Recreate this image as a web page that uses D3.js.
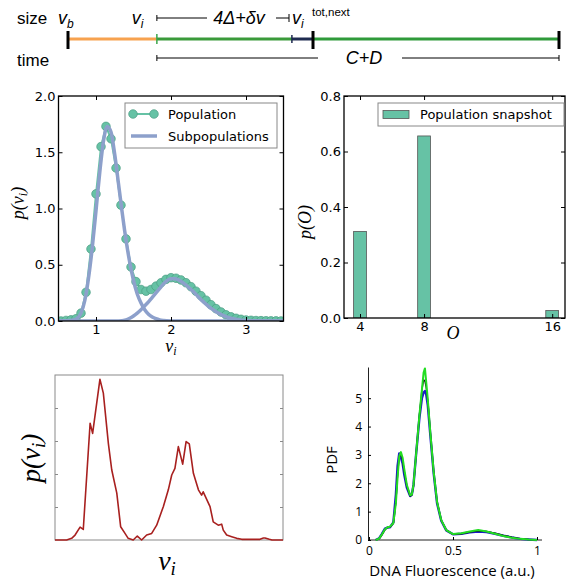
<!DOCTYPE html>
<html>
<head>
<meta charset="utf-8">
<script src="https://cdn.jsdelivr.net/npm/d3@7"></script>
<style>
  body { margin: 0; background: #fff; }
  svg text { fill: #000; }
</style>
</head>
<body>
<svg id="fig" width="566" height="580"></svg>
<script>
// ---- data ----
// timeline (fraction of cycle): v_b, v_i, start of δv, v_i^tot,next, end
const timelineMarks = [0, 0.181, 0.456, 0.499, 1.0];

// panel A: population histogram (bin centres) and two fitted subpopulations
const popX = [0.533,0.6,0.667,0.733,0.8,0.867,0.933,1.0,1.067,1.133,1.2,1.267,1.333,1.4,1.467,1.533,1.6,1.667,1.733,1.8,1.867,1.933,2.0,2.067,2.133,2.2,2.267,2.333,2.4,2.467,2.533,2.6,2.667,2.733,2.8,2.867,2.933,3.0,3.067,3.133,3.2,3.267,3.333,3.4,3.467];
const popY = [0.0,0.005,0.01,0.02,0.07,0.255,0.64,1.13,1.55,1.73,1.62,1.36,1.03,0.73,0.48,0.35,0.28,0.265,0.28,0.31,0.34,0.37,0.385,0.38,0.365,0.34,0.305,0.265,0.225,0.185,0.145,0.11,0.08,0.055,0.037,0.024,0.015,0.009,0.006,0.004,0.003,0.002,0.001,0.001,0.0];
const sub1X = [0.5,0.6,0.7,0.75,0.8,0.85,0.9,0.95,1.0,1.05,1.1,1.15,1.2,1.25,1.3,1.35,1.4,1.45,1.5,1.55,1.6,1.65,1.7,1.75,1.8,1.85,1.9,2.0,2.1,3.5];
const sub1Y = [0,0.002,0.01,0.025,0.07,0.18,0.38,0.65,0.98,1.32,1.6,1.73,1.68,1.48,1.22,0.96,0.72,0.52,0.36,0.24,0.16,0.1,0.06,0.035,0.02,0.01,0.005,0.001,0,0];
const sub2X = [0.5,1.3,1.4,1.45,1.5,1.55,1.6,1.65,1.7,1.75,1.8,1.85,1.9,1.95,2.0,2.05,2.1,2.15,2.2,2.25,2.3,2.35,2.4,2.45,2.5,2.55,2.6,2.65,2.7,2.75,2.8,2.9,3.0,3.1,3.2,3.5];
const sub2Y = [0,0,0.01,0.025,0.045,0.07,0.1,0.135,0.17,0.21,0.25,0.29,0.33,0.36,0.375,0.375,0.365,0.345,0.32,0.29,0.26,0.225,0.19,0.16,0.13,0.105,0.082,0.063,0.047,0.035,0.025,0.012,0.005,0.002,0.001,0];
const aXTicks = [1, 2, 3];
const aYTicks = [0, 0.5, 1.0, 1.5, 2.0];

// panel B: origins per cell
const originCats = [4, 8, 16];
const originP = [0.312, 0.656, 0.027];
const bYTicks = [0, 0.2, 0.4, 0.6, 0.8];

// panel C: measured volume distribution (arbitrary units)
const measX = [0,0.51,0.73,0.88,1.10,1.24,1.54,1.65,1.97,2.12,2.34,2.49,2.71,2.88,3.07,3.21,3.43,3.61,3.80,4.02,4.24,4.46,4.75,4.97,5.12,5.26,5.41,5.60,5.75,5.89,6.07,6.29,6.43,6.50,6.80,6.94,7.16,7.31,7.38,7.53,7.75,7.97,8.19,8.99,9.14,9.21,9.40,9.52,10];
const measY = [0,0,0.05,0.15,0.39,0.32,3.54,3.23,4.87,4.45,2.93,2.12,1.42,0.40,0.20,0.05,0,0.12,0,0.15,0.20,0.45,1.01,1.52,1.97,2.17,2.83,2.30,2.98,2.91,2.02,1.52,1.36,1.46,1.01,0.55,0.45,0.48,0.30,0.15,0.10,0.05,0.02,0.02,0.06,0.06,0.02,0,0];
const cYTicks = [1, 2, 3, 4];

// panel D: DNA fluorescence PDFs (three replicates)
const dnaX = [0.04,0.06,0.075,0.095,0.11,0.125,0.145,0.16,0.17,0.18,0.19,0.2,0.21,0.225,0.245,0.255,0.265,0.28,0.3,0.315,0.325,0.333,0.34,0.35,0.365,0.385,0.405,0.43,0.46,0.5,0.55,0.6,0.65,0.7,0.75,0.8,0.85,0.9,0.95,1.0];
const dnaBlue = [0,0.06,0.2,0.4,0.44,0.45,0.62,1.6,2.6,3.05,2.9,2.7,2.3,1.85,1.55,1.6,1.95,3.0,4.3,5.0,5.2,5.25,5.15,4.75,3.7,2.35,1.3,0.68,0.34,0.2,0.22,0.27,0.3,0.28,0.22,0.15,0.09,0.04,0.02,0];
const dnaBlack = [0,0.04,0.16,0.36,0.44,0.46,0.58,1.35,2.3,2.95,3.0,2.8,2.4,1.9,1.55,1.58,1.9,3.0,4.4,5.3,5.65,5.6,5.4,4.9,3.8,2.4,1.35,0.7,0.35,0.2,0.22,0.28,0.32,0.3,0.24,0.16,0.1,0.05,0.02,0];
const dnaGreen = [0,0.05,0.18,0.38,0.45,0.47,0.6,1.3,2.2,2.95,3.1,2.9,2.5,1.95,1.58,1.6,1.95,3.0,4.4,5.3,5.9,6.05,5.6,4.95,3.8,2.4,1.35,0.7,0.35,0.21,0.24,0.3,0.35,0.3,0.22,0.14,0.08,0.04,0.015,0];
const dXTicks = [0, 0.5, 1];
const dYTicks = [0, 1, 2, 3, 4, 5];

const svg = d3.select("#fig");
const mplFont = "'DejaVu Sans', sans-serif";
const mathFont = "'Liberation Serif', 'DejaVu Serif', serif";
const teal = "#66c2a5";
const lav = "#8da0cb";

// ---------- timeline ----------
function drawTimeline() {
    const tx = d3.scaleLinear().domain([0, 1]).range([68, 559]);
    const g = svg.append("g").attr("font-family", "'Liberation Sans', Arial, sans-serif");
    const m = timelineMarks;
    const yLine = 39;
    const segs = [[m[0], m[1], "#f7a24f"], [m[1], m[2], "#3a9a3a"], [m[2], m[3], "#1e2b50"], [m[3], m[4], "#2f9a3a"]];
    g.selectAll("line.seg").data(segs).join("line")
        .attr("x1", d => tx(d[0])).attr("x2", d => tx(d[1]))
        .attr("y1", yLine).attr("y2", yLine)
        .attr("stroke", d => d[2]).attr("stroke-width", 3);
    // thin ticks
    g.append("line").attr("x1", tx(m[1])).attr("x2", tx(m[1])).attr("y1", 34).attr("y2", 44).attr("stroke", "#3aa64a").attr("stroke-width", 1.5);
    g.append("line").attr("x1", tx(m[2])).attr("x2", tx(m[2])).attr("y1", 35).attr("y2", 43).attr("stroke", "#1e2b50").attr("stroke-width", 1.5);
    // thick black ticks
    g.selectAll("line.big").data([m[0], m[3], m[4]]).join("line")
        .attr("x1", d => tx(d)).attr("x2", d => tx(d)).attr("y1", 31).attr("y2", 49)
        .attr("stroke", "#000").attr("stroke-width", 3);

    g.append("text").attr("x", 17).attr("y", 24).attr("font-size", 17).text("size");
    g.append("text").attr("x", 17).attr("y", 66).attr("font-size", 17).text("time");

    const vb = g.append("text").attr("x", tx(m[0]) - 10).attr("y", 24).attr("font-size", 18).attr("font-style", "italic");
    vb.append("tspan").text("v");
    vb.append("tspan").attr("font-size", 12).attr("dy", 4).text("b");
    const vi = g.append("text").attr("x", tx(m[1]) - 25).attr("y", 24).attr("font-size", 18).attr("font-style", "italic");
    vi.append("tspan").text("v");
    vi.append("tspan").attr("font-size", 12).attr("dy", 4).text("i");
    const vt = g.append("text").attr("x", tx(m[3]) - 21).attr("y", 24).attr("font-size", 18).attr("font-style", "italic");
    vt.append("tspan").text("v");
    vt.append("tspan").attr("font-size", 12).attr("dy", 4).text("i");
    g.append("text").attr("x", tx(m[3]) - 1).attr("y", 16).attr("font-size", 11.5).text("tot,next");

    // upper bracket: 4Δ+δv
    const yb = 18;
    g.append("line").attr("x1", tx(m[1])).attr("x2", 207).attr("y1", yb).attr("y2", yb).attr("stroke", "#000");
    g.append("line").attr("x1", tx(m[1])).attr("x2", tx(m[1])).attr("y1", yb - 3).attr("y2", yb + 3).attr("stroke", "#000");
    g.append("text").attr("x", 239).attr("y", 24).attr("font-size", 18).attr("font-style", "italic")
        .attr("text-anchor", "middle").text("4Δ+δv");
    g.append("line").attr("x1", 276).attr("x2", 289).attr("y1", yb).attr("y2", yb).attr("stroke", "#000");
    g.append("line").attr("x1", 289).attr("x2", 289).attr("y1", yb - 4).attr("y2", yb + 4).attr("stroke", "#000");

    // lower bracket: C+D
    const yc = 58;
    g.append("line").attr("x1", tx(m[1])).attr("x2", 318).attr("y1", yc).attr("y2", yc).attr("stroke", "#000");
    g.append("line").attr("x1", tx(m[1])).attr("x2", tx(m[1])).attr("y1", yc - 3).attr("y2", yc + 3).attr("stroke", "#000");
    g.append("text").attr("x", 364).attr("y", 64).attr("font-size", 18).attr("font-style", "italic")
        .attr("text-anchor", "middle").text("C+D");
    g.append("line").attr("x1", 402).attr("x2", tx(m[4])).attr("y1", yc).attr("y2", yc).attr("stroke", "#000");
    g.append("line").attr("x1", tx(m[4])).attr("x2", tx(m[4])).attr("y1", yc - 3).attr("y2", yc + 3).attr("stroke", "#000");
}

// matplotlib-style box with inward ticks on all sides
function mplFrame(g, x, y, xt, yt, xfmt, yfmt) {
    const [x0, x1] = x.range();
    const [y0, y1] = y.range();
    const mk = (axis, tr, fmt) => {
        const a = g.append("g").attr("transform", tr)
            .call(axis.tickSizeInner(-4).tickSizeOuter(0).tickPadding(4).tickFormat(fmt));
        a.select(".domain").remove();
        a.selectAll(".tick line").attr("stroke", "#000").attr("stroke-width", 1);
        a.selectAll("text").attr("font-family", mplFont).attr("font-size", 13).attr("fill", "#000");
        return a;
    };
    mk(d3.axisBottom(x).tickValues(xt), `translate(0,${y0})`, xfmt).selectAll("text").attr("y", 4);
    mk(d3.axisTop(x).tickValues(xt), `translate(0,${y1})`, "");
    mk(d3.axisLeft(y).tickValues(yt), `translate(${x0},0)`, yfmt).selectAll("text").attr("x", -3);
    mk(d3.axisRight(y).tickValues(yt), `translate(${x1},0)`, "");
    g.append("rect").attr("x", x0).attr("y", y1).attr("width", x1 - x0).attr("height", y0 - y1)
        .attr("fill", "none").attr("stroke", "#000").attr("stroke-width", 1.3);
}

// ---------- panel A ----------
function drawPanelA() {
    const x = d3.scaleLinear().domain([0.5, 3.5]).range([58.5, 283.5]);
    const y = d3.scaleLinear().domain([0, 2]).range([321, 96]);
    const g = svg.append("g");
    g.append("clipPath").attr("id", "clipA").append("rect")
        .attr("x", 58.5).attr("y", 96).attr("width", 225).attr("height", 225);
    const plot = g.append("g").attr("clip-path", "url(#clipA)");
    const pts = popX.map((v, i) => [v, popY[i]]);
    const line = d3.line().x(d => x(d[0])).y(d => y(d[1]));
    plot.append("path").datum(pts).attr("d", line).attr("fill", "none").attr("stroke", teal).attr("stroke-width", 2);
    plot.selectAll("circle").data(pts).join("circle")
        .attr("cx", d => x(d[0])).attr("cy", d => y(d[1])).attr("r", 4.3)
        .attr("fill", teal).attr("stroke", "#4a9c82").attr("stroke-width", 0.7);
    const curve = d3.line().curve(d3.curveMonotoneX).x(d => x(d[0])).y(d => y(d[1]));
    [[sub1X, sub1Y], [sub2X, sub2Y]].forEach(([xs, ys]) => {
        plot.append("path").datum(xs.map((v, i) => [v, ys[i]])).attr("d", curve)
            .attr("fill", "none").attr("stroke", lav).attr("stroke-width", 3.5).attr("stroke-linejoin", "round");
    });
    mplFrame(g, x, y, aXTicks, aYTicks, d3.format("d"), d3.format(".1f"));

    // legend
    const lg = g.append("g");
    lg.append("rect").attr("x", 125).attr("y", 103).attr("width", 152).attr("height", 45)
        .attr("fill", "#fff").attr("stroke", "#888").attr("stroke-width", 1);
    lg.append("line").attr("x1", 133).attr("x2", 154).attr("y1", 114).attr("y2", 114).attr("stroke", teal).attr("stroke-width", 2);
    lg.selectAll("circle").data([133, 154]).join("circle").attr("cx", d => d).attr("cy", 114).attr("r", 4.3)
        .attr("fill", teal).attr("stroke", "#4a9c82").attr("stroke-width", 0.7);
    lg.append("line").attr("x1", 131).attr("x2", 157).attr("y1", 136).attr("y2", 136).attr("stroke", lav).attr("stroke-width", 3.5);
    lg.append("text").attr("x", 168).attr("y", 118.5).attr("font-family", mplFont).attr("font-size", 13).text("Population");
    lg.append("text").attr("x", 168).attr("y", 140.5).attr("font-family", mplFont).attr("font-size", 13).text("Subpopulations");

    // axis labels
    const yl = g.append("text").attr("transform", "translate(24,203) rotate(-90)").attr("text-anchor", "middle")
        .attr("font-family", mathFont).attr("font-size", 18).attr("font-style", "italic");
    yl.append("tspan").text("p(v");
    yl.append("tspan").attr("font-size", 12).attr("dy", 3).text("i");
    yl.append("tspan").attr("dy", -3).text(")");
    const xl = g.append("text").attr("x", 171).attr("y", 352).attr("text-anchor", "middle")
        .attr("font-family", mathFont).attr("font-size", 18).attr("font-style", "italic");
    xl.append("tspan").text("v");
    xl.append("tspan").attr("font-size", 12).attr("dy", 3).text("i");
}

// ---------- panel B ----------
function drawPanelB() {
    const x = d3.scaleLinear().domain([3, 16.8]).range([344, 565]);
    const y = d3.scaleLinear().domain([0, 0.8]).range([318, 96]);
    const g = svg.append("g");
    g.append("clipPath").attr("id", "clipB").append("rect")
        .attr("x", 344).attr("y", 96).attr("width", 221).attr("height", 222);
    g.append("g").attr("clip-path", "url(#clipB)").selectAll("rect")
        .data(originCats.map((c, i) => [c, originP[i]])).join("rect")
        .attr("x", d => x(d[0] - 0.4)).attr("width", d => x(d[0] + 0.4) - x(d[0] - 0.4))
        .attr("y", d => y(d[1])).attr("height", d => y(0) - y(d[1]))
        .attr("fill", teal).attr("stroke", "#555").attr("stroke-width", 0.8);
    mplFrame(g, x, y, originCats, bYTicks, d3.format("d"), d3.format(".1f"));

    const lg = g.append("g");
    lg.append("rect").attr("x", 378).attr("y", 103).attr("width", 186).attr("height", 23)
        .attr("fill", "#fff").attr("stroke", "#888").attr("stroke-width", 1);
    lg.append("rect").attr("x", 383).attr("y", 110.5).attr("width", 26).attr("height", 8)
        .attr("fill", teal).attr("stroke", "#555").attr("stroke-width", 0.8);
    lg.append("text").attr("x", 420).attr("y", 119).attr("font-family", mplFont).attr("font-size", 13).text("Population snapshot");

    g.append("text").attr("transform", "translate(311,222) rotate(-90)").attr("text-anchor", "middle")
        .attr("font-family", mathFont).attr("font-size", 18).attr("font-style", "italic").text("p(O)");
    g.append("text").attr("x", 453).attr("y", 339).attr("text-anchor", "middle")
        .attr("font-family", mathFont).attr("font-size", 18).attr("font-style", "italic").text("O");
}

// ---------- panel C ----------
function drawPanelC() {
    const x = d3.scaleLinear().domain([0, 10]).range([55, 283]);
    const y = d3.scaleLinear().domain([0, 5]).range([540, 375]);
    const g = svg.append("g");
    g.append("rect").attr("x", 55).attr("y", 375).attr("width", 228).attr("height", 165)
        .attr("fill", "none").attr("stroke", "#8a8a8a").attr("stroke-width", 1);
    const la = g.append("g").attr("transform", "translate(55,0)")
        .call(d3.axisLeft(y).tickValues(cYTicks).tickSizeInner(-3).tickSizeOuter(0).tickFormat(""));
    const ra = g.append("g").attr("transform", "translate(283,0)")
        .call(d3.axisRight(y).tickValues(cYTicks).tickSizeInner(-3).tickSizeOuter(0).tickFormat(""));
    [la, ra].forEach(a => { a.select(".domain").remove(); a.selectAll("line").attr("stroke", "#8a8a8a"); });
    const pts = measX.map((v, i) => [v, measY[i]]);
    g.append("path").datum(pts).attr("d", d3.line().x(d => x(d[0])).y(d => y(d[1])))
        .attr("fill", "none").attr("stroke", "#a8201f").attr("stroke-width", 1.6).attr("stroke-linejoin", "round");

    const yl = g.append("text").attr("transform", "translate(40,458) rotate(-90)").attr("text-anchor", "middle")
        .attr("font-family", mathFont).attr("font-size", 27).attr("font-style", "italic");
    yl.append("tspan").text("p(v");
    yl.append("tspan").attr("font-size", 19).attr("dy", 5).text("i");
    yl.append("tspan").attr("dy", -5).text(")");
    const xl = g.append("text").attr("x", 167).attr("y", 570).attr("text-anchor", "middle")
        .attr("font-family", mathFont).attr("font-size", 28).attr("font-style", "italic");
    xl.append("tspan").text("v");
    xl.append("tspan").attr("font-size", 19).attr("dy", 5).text("i");
}

// ---------- panel D ----------
function drawPanelD() {
    const x = d3.scaleLinear().domain([0, 1]).range([369, 537]);
    const y = d3.scaleLinear().domain([0, 6.1]).range([540, 367]);
    const g = svg.append("g");
    const font = "'Open Sans', 'Liberation Sans', sans-serif";
    const xa = g.append("g").attr("transform", "translate(0,540)")
        .call(d3.axisBottom(x).tickValues(dXTicks).tickSizeInner(-3).tickSizeOuter(0).tickPadding(6).tickFormat(d3.format("")));
    xa.select(".domain").attr("d", "M368,0H542");
    const ya = g.append("g").attr("transform", "translate(368,0)")
        .call(d3.axisLeft(y).tickValues(dYTicks).tickSizeInner(-3).tickSizeOuter(0).tickPadding(6).tickFormat(d3.format("d")));
    [xa, ya].forEach(a => {
        a.selectAll("text").attr("font-family", font).attr("font-size", 12).attr("fill", "#333");
        a.select(".domain").attr("stroke", "#222");
    });
    const line = d3.line().x(d => x(d[0])).y(d => y(d[1]));
    [[dnaBlue, "#1a1acc", 2.4], [dnaBlack, "#111", 1.4], [dnaGreen, "#22dd22", 2]].forEach(([ys, c, w]) => {
        g.append("path").datum(dnaX.map((v, i) => [v, ys[i]])).attr("d", line)
            .attr("fill", "none").attr("stroke", c).attr("stroke-width", w).attr("stroke-linejoin", "round");
    });
    g.append("text").attr("transform", "translate(337,460) rotate(-90)").attr("text-anchor", "middle")
        .attr("font-family", font).attr("font-size", 15).attr("fill", "#222").text("PDF");
    g.append("text").attr("x", 452).attr("y", 576).attr("text-anchor", "middle")
        .attr("font-family", font).attr("font-size", 15).attr("fill", "#222").text("DNA Fluorescence (a.u.)");
}

drawTimeline();
drawPanelA();
drawPanelB();
drawPanelC();
drawPanelD();
</script>
</body>
</html>
